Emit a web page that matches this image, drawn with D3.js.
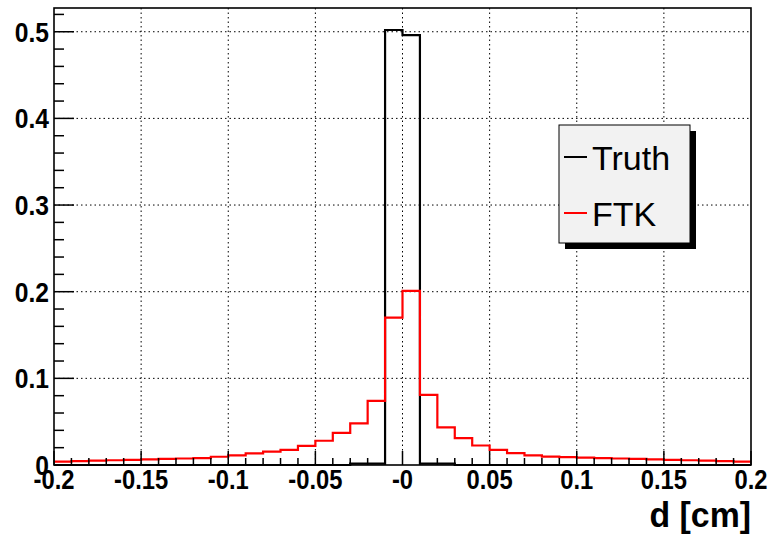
<!DOCTYPE html>
<html>
<head>
<meta charset="utf-8">
<script src="https://cdn.jsdelivr.net/npm/d3@7"></script>
<style>
  body { margin: 0; background: #fff; }
  svg text { font-family: "Liberation Sans", Helvetica, Arial, sans-serif; }
</style>
</head>
<body>
<div id="frame"></div>
<script>
'use strict'

// bin edges: 40 bins of 0.01 from -0.2 to 0.2
var binLow = d3.range(40).map(i => -0.2 + i * 0.01)

var truth = [
  0, 0, 0, 0, 0, 0, 0, 0, 0, 0,
  0, 0, 0, 0, 0, 0, 0, 0.0015, 0.0015, 0.502,
  0.496, 0.0015, 0.0015, 0, 0, 0, 0, 0, 0, 0,
  0, 0, 0, 0, 0, 0, 0, 0, 0, 0
]

var ftk = [
  0.004, 0.0045, 0.005, 0.0055, 0.006, 0.0065, 0.007, 0.0075, 0.008, 0.0095,
  0.011, 0.0135, 0.0155, 0.0175, 0.022, 0.028, 0.037, 0.048, 0.074, 0.170,
  0.201, 0.081, 0.0435, 0.031, 0.0225, 0.0175, 0.0138, 0.011, 0.0096, 0.009,
  0.0085, 0.008, 0.0075, 0.007, 0.0065, 0.006, 0.0055, 0.005, 0.0045, 0.004
]

var xTicks = [-0.2, -0.15, -0.1, -0.05, 0, 0.05, 0.1, 0.15, 0.2]
var xTickLabels = ["-0.2", "-0.15", "-0.1", "-0.05", "-0", "0.05", "0.1", "0.15", "0.2"]
var yTicks = [0, 0.1, 0.2, 0.3, 0.4, 0.5]
var yTickLabels = ["0", "0.1", "0.2", "0.3", "0.4", "0.5"]
var seriesNames = ["Truth", "FTK"]
var seriesColors = ["#000000", "#ff0000"]

var W = 771, H = 536
var frame = { left: 54, right: 751, top: 8, bottom: 465 }

var svg = d3.select("#frame").append("svg")
  .attr("width", W).attr("height", H)

var x = d3.scaleLinear().domain([-0.2, 0.2]).range([frame.left, frame.right])
var y = d3.scaleLinear().domain([0, 0.5274]).range([frame.bottom, frame.top])

// grid
var grid = svg.append("g").attr("class", "grid")
grid.selectAll("line.gx")
  .data(xTicks.slice(1, -1))
  .enter().append("line")
  .attr("x1", d => x(d)).attr("x2", d => x(d))
  .attr("y1", frame.top).attr("y2", frame.bottom)
grid.selectAll("line.gy")
  .data(yTicks.slice(1))
  .enter().append("line")
  .attr("x1", frame.left).attr("x2", frame.right)
  .attr("y1", d => y(d)).attr("y2", d => y(d))
grid.selectAll("line")
  .style("stroke", "#000")
  .style("stroke-width", 1)
  .style("stroke-dasharray", "1.5,3")

// histograms as step paths
function stepPath(vals) {
  var pts = [[x(-0.2), y(vals[0])]]
  vals.forEach((v, i) => {
    pts.push([x(binLow[i]), y(v)])
    pts.push([x(binLow[i] + 0.01), y(v)])
  })
  return d3.line()(pts)
}

var series = [truth, ftk]
svg.selectAll("path.hist")
  .data(series)
  .enter().append("path")
  .attr("class", "hist")
  .attr("d", d => stepPath(d))
  .style("fill", "none")
  .style("stroke", (d, i) => seriesColors[i])
  .style("stroke-width", 2.2)

// axis ticks (ROOT style, inside the frame)
var ax = svg.append("g").attr("class", "ticks")
var yMinor = d3.range(0, 0.5274, 0.02)
ax.selectAll("line.ym")
  .data(yMinor)
  .enter().append("line")
  .attr("x1", frame.left)
  .attr("x2", (d) => {
    var major = Math.abs(Math.round(d * 10) - d * 10) < 1e-6
    return frame.left + (major ? 20 : 10)
  })
  .attr("y1", d => y(d)).attr("y2", d => y(d))
var xMinor = d3.range(-0.2, 0.2001, 0.01)
ax.selectAll("line.xm")
  .data(xMinor)
  .enter().append("line")
  .attr("x1", d => x(d)).attr("x2", d => x(d))
  .attr("y1", frame.bottom)
  .attr("y2", (d) => {
    var major = Math.abs(Math.round(d * 20) - d * 20) < 1e-6
    return frame.bottom - (major ? 14 : 7)
  })
ax.selectAll("line")
  .style("stroke", "#000")
  .style("stroke-width", 1.5)

// frame
svg.append("rect")
  .attr("x", frame.left).attr("y", frame.top)
  .attr("width", frame.right - frame.left)
  .attr("height", frame.bottom - frame.top)
  .style("fill", "none")
  .style("stroke", "#000")
  .style("stroke-width", 1.6)

// tick labels, a bit condensed like the ROOT fonts
var sx = 0.88
svg.selectAll("text.ylab")
  .data(yTicks)
  .enter().append("text")
  .attr("class", "ylab")
  .attr("transform", d => "translate(49," + (y(d) + 10) + ") scale(" + sx + ",1)")
  .attr("text-anchor", "end")
  .style("font-size", "28px")
  .style("font-weight", "bold")
  .text((d, i) => yTickLabels[i])

svg.selectAll("text.xlab")
  .data(xTicks)
  .enter().append("text")
  .attr("class", "xlab")
  .attr("transform", d => "translate(" + x(d) + ",489) scale(" + sx + ",1)")
  .attr("text-anchor", "middle")
  .style("font-size", "27px")
  .style("font-weight", "bold")
  .text((d, i) => xTickLabels[i])

svg.append("text")
  .attr("transform", "translate(" + frame.right + ",527) scale(0.94,1)")
  .attr("text-anchor", "end")
  .style("font-size", "36px")
  .style("font-weight", "bold")
  .text("d [cm]")

// legend
var lg = { x: 559, y: 125, w: 131, h: 118 }
svg.append("rect")
  .attr("x", lg.x + 6).attr("y", lg.y + 6)
  .attr("width", lg.w).attr("height", lg.h)
  .style("fill", "#000")
svg.append("rect")
  .attr("x", lg.x).attr("y", lg.y)
  .attr("width", lg.w).attr("height", lg.h)
  .style("fill", "#f2f2f2")
  .style("stroke", "#000")
  .style("stroke-width", 1)

var entries = svg.selectAll("g.entry")
  .data(seriesNames)
  .enter().append("g")
  .attr("class", "entry")
  .attr("transform", (d, i) => "translate(0," + (157 + i * 56) + ")")
entries.append("line")
  .attr("x1", 564).attr("x2", 587)
  .attr("y1", 0).attr("y2", 0)
  .style("stroke", (d, i) => seriesColors[i])
  .style("stroke-width", 2)
entries.append("text")
  .attr("x", 592)
  .attr("y", 13)
  .style("font-size", "34px")
  .text(d => d)
</script>
</body>
</html>
